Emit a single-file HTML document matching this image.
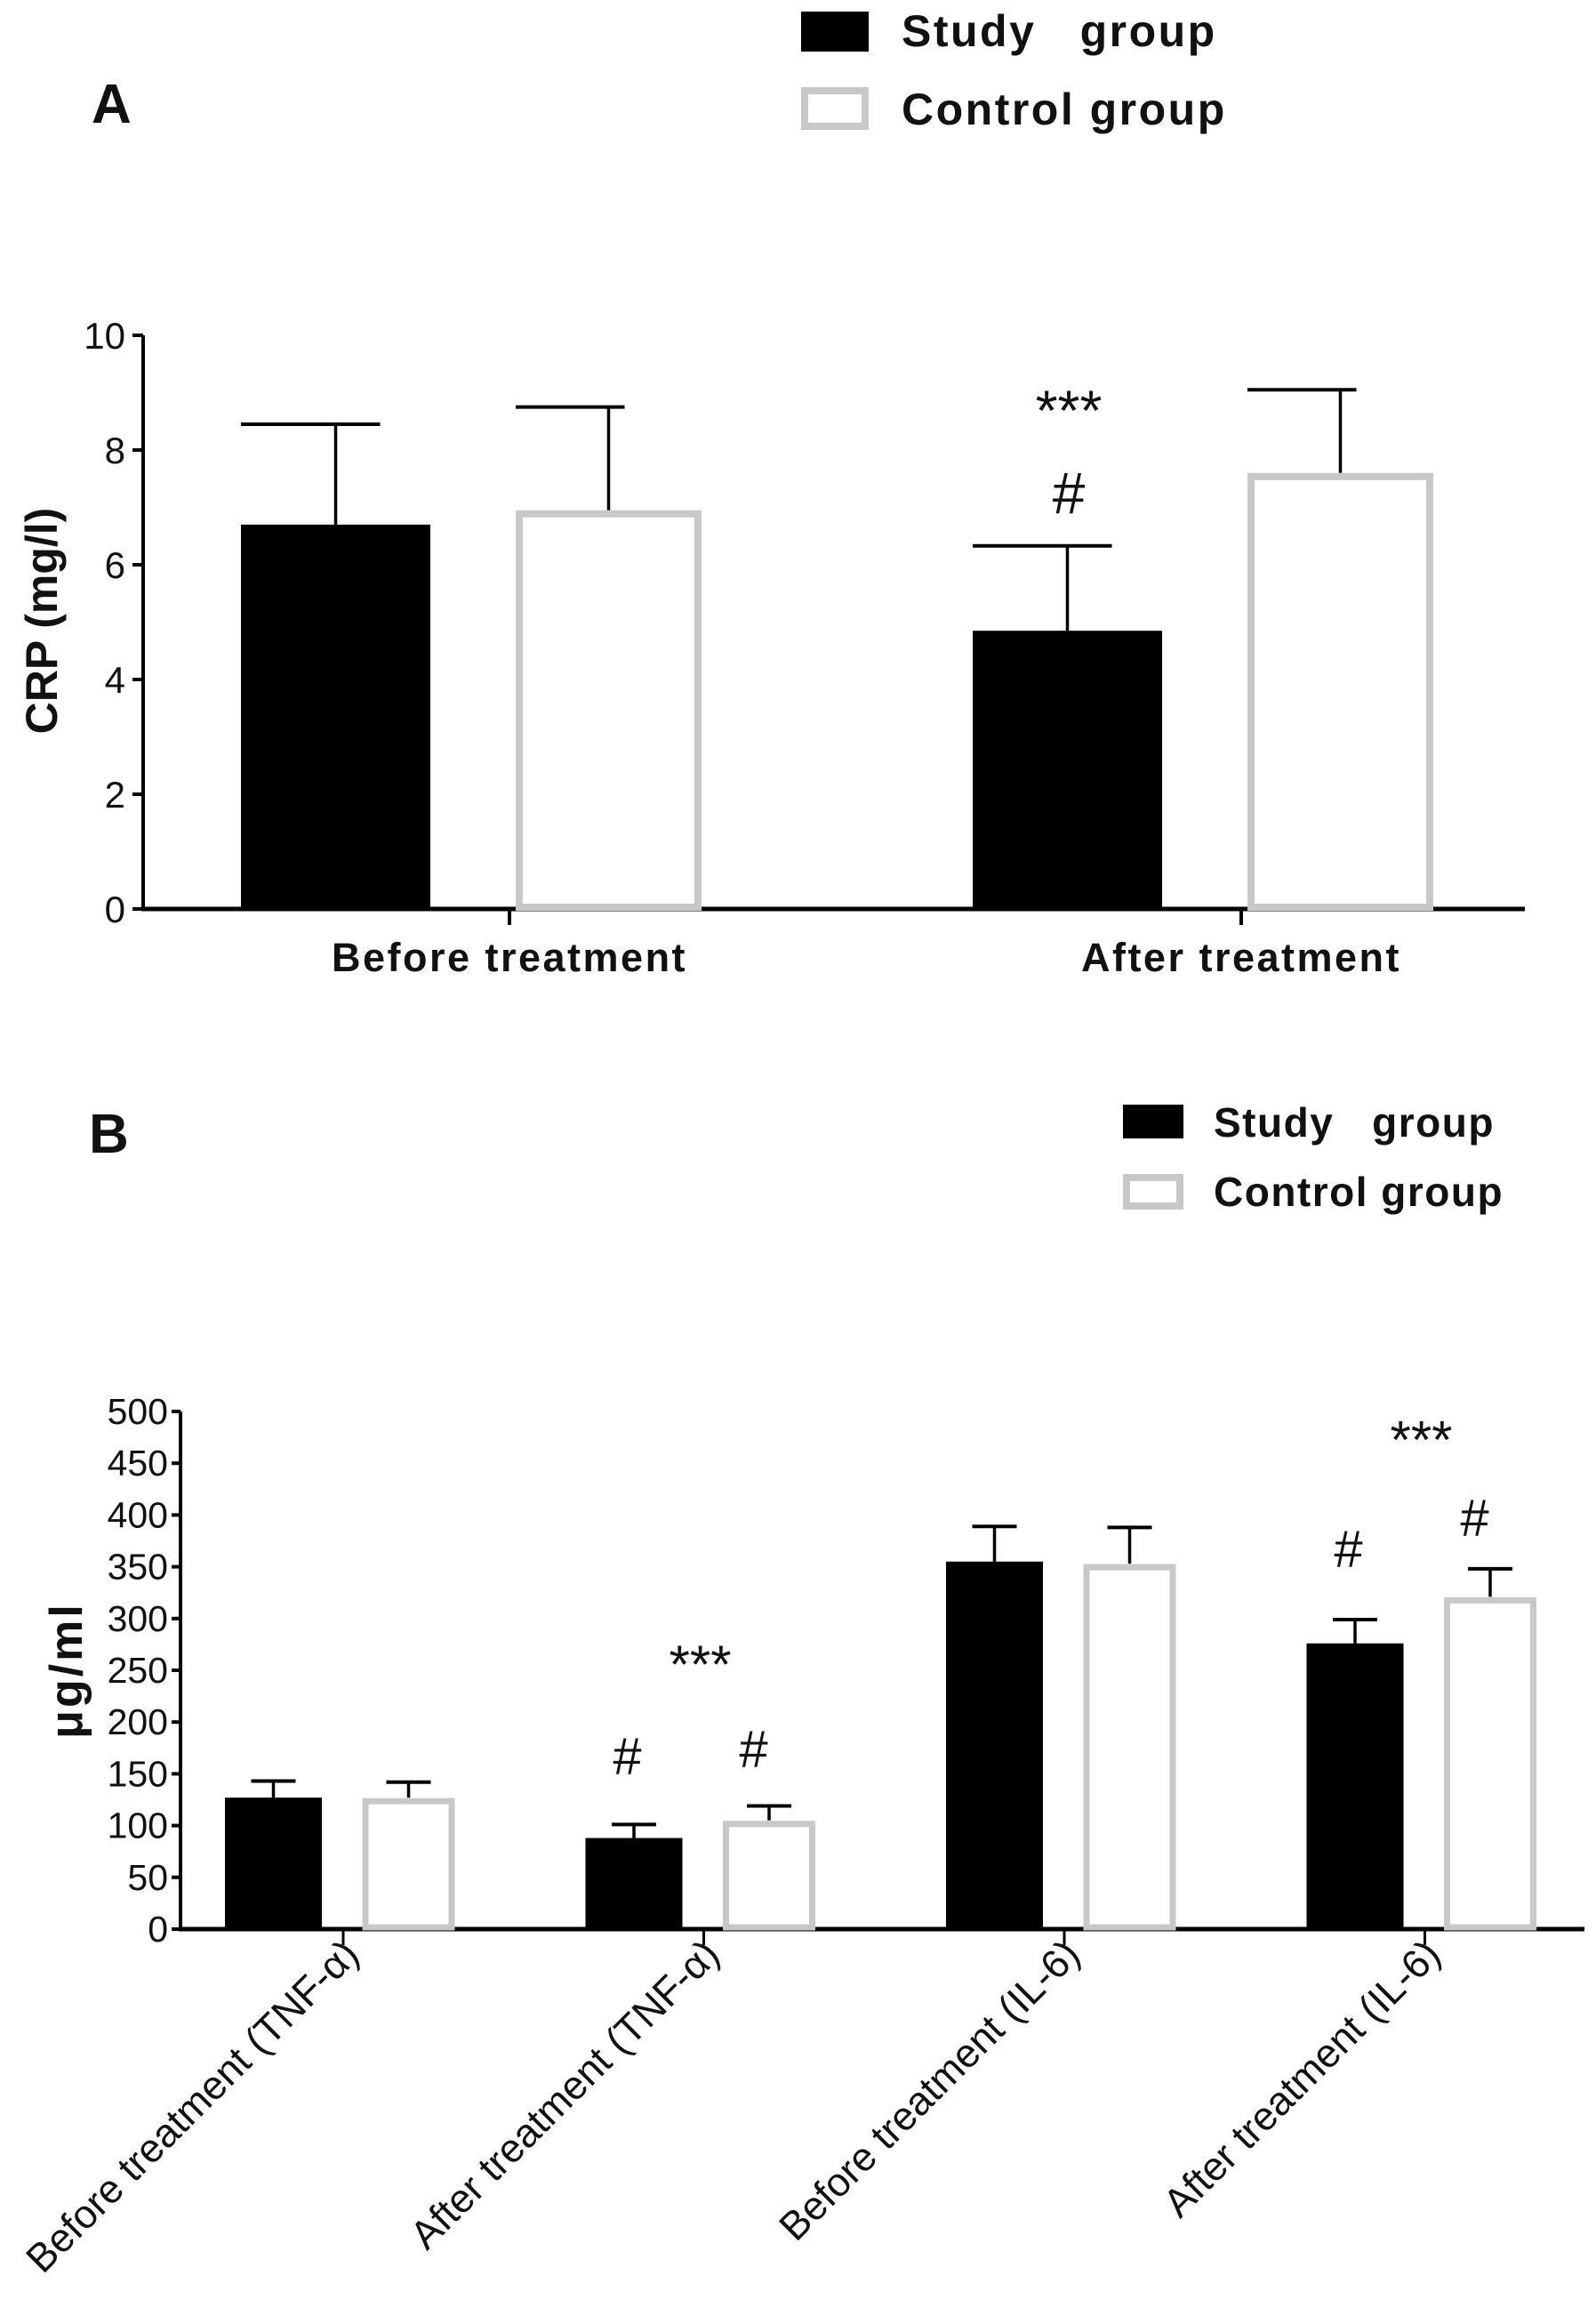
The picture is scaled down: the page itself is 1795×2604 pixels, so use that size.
<!DOCTYPE html>
<html><head><meta charset="utf-8"><style>
html,body{margin:0;padding:0;background:#fff}
svg{display:block}
text{font-family:"Liberation Sans",sans-serif;fill:#111}
</style></head><body>
<svg id="fig" width="1795" height="2604" viewBox="0 0 1795 2604" xmlns="http://www.w3.org/2000/svg">
<g>
<text x="103" y="138" font-size="62" font-weight="bold">A</text>
<rect x="901" y="13" width="76" height="45" fill="#000"/>
<text x="1014" y="52" font-size="50" font-weight="bold" letter-spacing="2.5" fill="#222" xml:space="preserve">Study   group</text>
<rect x="905" y="102" width="68" height="40" fill="none" stroke="#c8c8c8" stroke-width="8"/>
<text x="1014" y="140" font-size="50" font-weight="bold" letter-spacing="2.5" fill="#222">Control group</text>
</g>
<g id="chartA"></g>
<g>
<text x="100" y="1296" font-size="62" font-weight="bold">B</text>
<rect x="1263" y="1242" width="68" height="38" fill="#000"/>
<text x="1365" y="1278" font-size="46" font-weight="bold" letter-spacing="1.5" fill="#222" xml:space="preserve">Study   group</text>
<rect x="1267" y="1324" width="60" height="32" fill="none" stroke="#c8c8c8" stroke-width="8"/>
<text x="1365" y="1356" font-size="46" font-weight="bold" letter-spacing="1.5" fill="#222">Control group</text>
</g>
<g id="chartB"></g>
</svg>
<script>
const NS="http://www.w3.org/2000/svg";
// Panel A data
const catsA=["Before treatment","After treatment"];
const studyA=[6.7,4.85];
const controlA=[6.95,7.6];
const studyErrA=[8.45,6.33];
const controlErrA=[8.75,9.05];
const ticksA=[0,2,4,6,8,10];
const annotA=[{group:1,text:"***",value:8.35},{group:1,text:"#",value:6.9}];
// Panel B data
const catsB=["Before treatment (TNF-α)","After treatment (TNF-α)","Before treatment (IL-6)","After treatment (IL-6)"];
const studyB=[127,88,355,276];
const controlB=[127,105,353,321];
const studyErrB=[143,101,389,299];
const controlErrB=[142,119,388,348];
const ticksB=[0,50,100,150,200,250,300,350,400,450,500];
const annotB=[{group:1,series:"mid",text:"***",value:238},{group:1,series:"s",text:"#",value:150},{group:1,series:"c",text:"#",value:157},{group:3,series:"mid",text:"***",value:455},{group:3,series:"s",text:"#",value:350},{group:3,series:"c",text:"#",value:380}];

function mk(p,tag,attrs,name,txt){const e=document.createElementNS(NS,tag);for(const k in attrs)e.setAttribute(k,attrs[k]);


if(txt!==undefined)e.textContent=txt;p.appendChild(e);return e;}

// ---- Chart A
(function(){
const g=document.getElementById('chartA');
const x0=161,x1=1715,yTop=377,yBot=1022,vmax=10;
const y=v=>yBot-(v/vmax)*(yBot-yTop);
const gx=i=>573+i*823;
mk(g,'line',{x1:x0,y1:yTop,x2:x0,y2:yBot,stroke:'#000','stroke-width':4},'y-axis');
mk(g,'line',{x1:x0-2,y1:yBot,x2:x1,y2:yBot,stroke:'#000','stroke-width':5},'x-axis');
ticksA.forEach(t=>{mk(g,'line',{x1:x0-12,y1:y(t),x2:x0,y2:y(t),stroke:'#000','stroke-width':4},'y-tick');
mk(g,'text',{x:x0-20,y:y(t)+15,'font-size':42,'text-anchor':'end'},'y-tick-label',t);});
mk(g,'text',{x:0,y:0,'font-size':50,'font-weight':'bold','text-anchor':'middle',transform:'translate(64,698) rotate(-90)'},'y-axis-title','CRP (mg/l)');
catsA.forEach((c,i)=>{const cx=gx(i);
mk(g,'line',{x1:cx,y1:yBot,x2:cx,y2:yBot+18,stroke:'#000','stroke-width':4},'x-tick');
mk(g,'text',{x:cx,y:1092,'font-size':45,'font-weight':'bold','letter-spacing':2.5,'text-anchor':'middle',fill:'#222'},'x-category-label',c);
const sL=cx-302,sW=213,sC=sL+sW/2;
mk(g,'line',{x1:sC,y1:y(studyErrA[i]),x2:sC,y2:y(studyA[i]),stroke:'#000','stroke-width':3.5},'error-bar-study');
mk(g,'line',{x1:sL,y1:y(studyErrA[i]),x2:sC+50,y2:y(studyErrA[i]),stroke:'#000','stroke-width':4},'error-cap-study');
mk(g,'rect',{x:sL,y:y(studyA[i]),width:sW,height:yBot-y(studyA[i]),fill:'#000'},'bar-study-'+i);
const cL=cx+7+4,cW=209-8,cC=cL+cW/2;
mk(g,'line',{x1:cC,y1:y(controlErrA[i]),x2:cC,y2:y(controlA[i]),stroke:'#000','stroke-width':3.5},'error-bar-control');
mk(g,'line',{x1:cL-4,y1:y(controlErrA[i]),x2:cC+18,y2:y(controlErrA[i]),stroke:'#000','stroke-width':4},'error-cap-control');
mk(g,'rect',{x:cL,y:y(controlA[i])+4,width:cW,height:yBot-y(controlA[i])-6,fill:'none',stroke:'#c8c8c8','stroke-width':8},'bar-control-'+i);
});
annotA.forEach(a=>{const cx=gx(a.group)-302+106;
mk(g,'text',{x:cx+2,y:y(a.value),'font-size':a.text==='#'?66:64,'text-anchor':'middle'},'significance-mark',a.text);});
})();

// ---- Chart B
(function(){
const g=document.getElementById('chartB');
const x0=203,x1=1782,yTop=1587,yBot=2169,vmax=500;
const y=v=>yBot-(v/vmax)*(yBot-yTop);
const gx=i=>386+i*405.5;
mk(g,'line',{x1:x0,y1:yTop,x2:x0,y2:yBot,stroke:'#000','stroke-width':4},'y-axis');
mk(g,'line',{x1:x0-2,y1:yBot,x2:x1,y2:yBot,stroke:'#000','stroke-width':5},'x-axis');
ticksB.forEach(t=>{mk(g,'line',{x1:x0-10,y1:y(t),x2:x0,y2:y(t),stroke:'#000','stroke-width':4},'y-tick');
mk(g,'text',{x:x0-14,y:y(t)+14,'font-size':41,'text-anchor':'end'},'y-tick-label',t);});
mk(g,'text',{x:0,y:0,'font-size':52,'font-weight':'bold','letter-spacing':3,'text-anchor':'middle',transform:'translate(92,1878) rotate(-90)'},'y-axis-title','μg/ml');
catsB.forEach((c,i)=>{const cx=gx(i);
mk(g,'line',{x1:cx,y1:yBot,x2:cx,y2:yBot+18,stroke:'#000','stroke-width':3},'x-tick');
mk(g,'text',{x:0,y:0,'font-size':45,'text-anchor':'end',transform:'translate('+(cx+20)+',2200) rotate(-45)'},'x-category-label',c);
const sL=cx-133,sW=109,sC=sL+sW/2;
mk(g,'line',{x1:sC,y1:y(studyErrB[i]),x2:sC,y2:y(studyB[i]),stroke:'#000','stroke-width':3.5},'error-bar-study');
mk(g,'line',{x1:sC-25,y1:y(studyErrB[i]),x2:sC+25,y2:y(studyErrB[i]),stroke:'#000','stroke-width':4},'error-cap-study');
mk(g,'rect',{x:sL,y:y(studyB[i]),width:sW,height:yBot-y(studyB[i]),fill:'#000'},'bar-study-'+i);
const cL=cx+25,cW=97,cC=cL+cW/2;
mk(g,'line',{x1:cC,y1:y(controlErrB[i]),x2:cC,y2:y(controlB[i]),stroke:'#000','stroke-width':3.5},'error-bar-control');
mk(g,'line',{x1:cC-25,y1:y(controlErrB[i]),x2:cC+25,y2:y(controlErrB[i]),stroke:'#000','stroke-width':4},'error-cap-control');
mk(g,'rect',{x:cL,y:y(controlB[i])+4,width:cW,height:yBot-y(controlB[i])-6,fill:'none',stroke:'#c8c8c8','stroke-width':7},'bar-control-'+i);
});
annotB.forEach(a=>{const cx=gx(a.group);const xx=a.series==='mid'?cx-4:(a.series==='s'?cx-86:cx+56);
mk(g,'text',{x:xx,y:y(a.value),'font-size':a.series==='mid'?60:58,'text-anchor':'middle'},'significance-mark',a.text);});
})();
</script>
</body></html>
